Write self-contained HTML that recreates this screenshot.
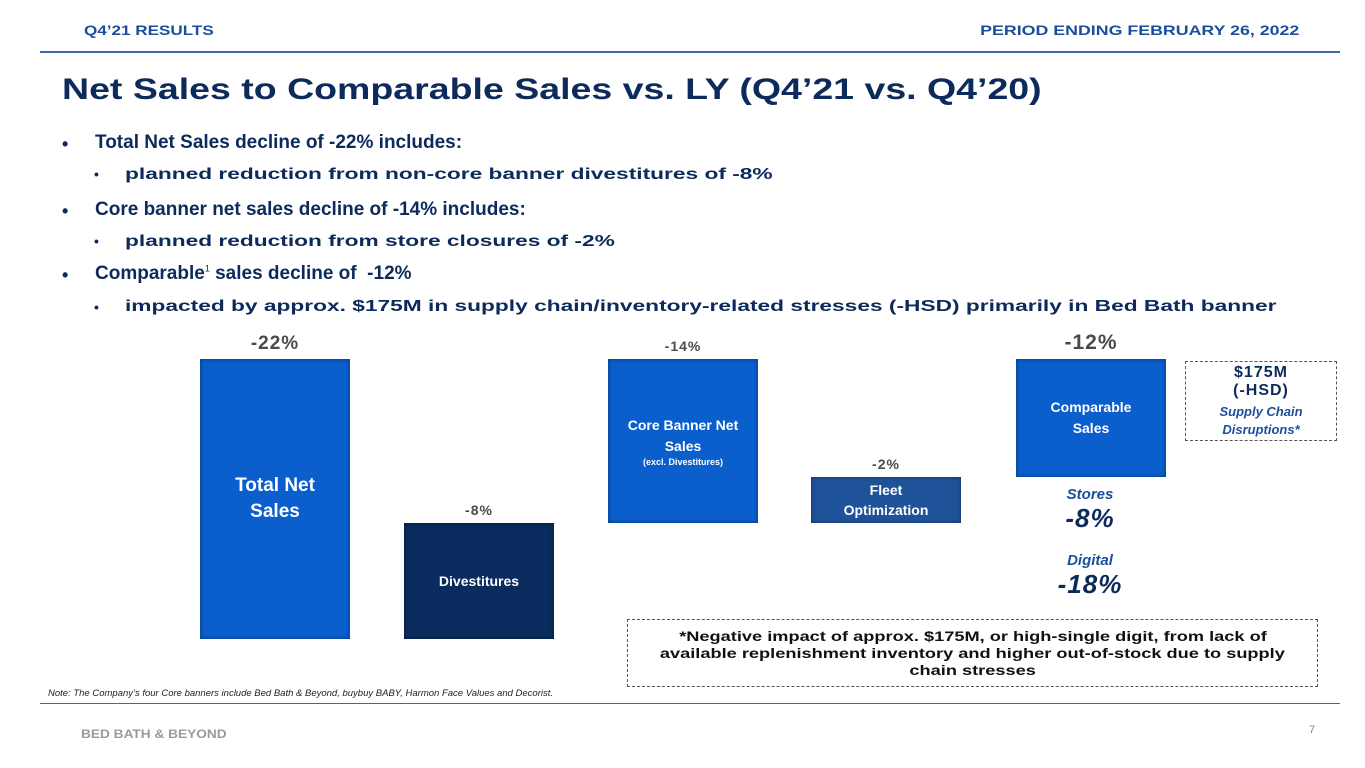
<!DOCTYPE html>
<html><head><meta charset="utf-8"><style>
body{margin:0;width:1365px;height:768px;background:#fff;position:relative;overflow:hidden;font-family:"Liberation Sans",sans-serif;color:#0c2a5b}
.a{position:absolute}
.h{font-weight:bold;font-size:14px;color:#1b4f9c;top:22px;white-space:nowrap}
.b{font-weight:bold;color:#0c2a5b;white-space:nowrap;transform-origin:0 50%}
.l1{font-size:19px}
.l2{font-size:16px;transform:scaleX(1.42)}
.dot{position:absolute;font-weight:bold;color:#0c2a5b}
.bar{position:absolute;box-shadow:inset 0 0 4px rgba(0,0,0,.45);color:#fff;font-weight:bold;text-align:center;display:flex;flex-direction:column;justify-content:center;align-items:center}
.lbl{position:absolute;font-weight:bold;color:#4a4a4a;text-align:center;width:160px;letter-spacing:1px}
.fl{display:block;transform:scaleX(1.3);white-space:nowrap}
</style></head><body>
<div class="a h" style="left:84px;transform:scaleX(1.22);transform-origin:0 50%">Q4’21 RESULTS</div>
<div class="a h" style="right:66px;transform:scaleX(1.27);transform-origin:100% 50%">PERIOD ENDING FEBRUARY 26, 2022</div>
<div class="a" style="left:40px;top:51px;width:1300px;height:2px;background:#3e68a8"></div>
<div class="a b" style="left:62px;top:73px;font-size:30px;transform:scaleX(1.25)">Net Sales to Comparable Sales vs. LY (Q4’21 vs. Q4’20)</div>
<div>
<div class="dot" style="left:62px;top:134px;font-size:18px">•</div>
<div class="a b l1" style="left:95px;top:132px">Total Net Sales decline of -22% includes:</div>
<div class="dot" style="left:94px;top:166px;font-size:14px">•</div>
<div class="a b l2" style="left:125px;top:166px">planned reduction from non-core banner divestitures of -8%</div>
<div class="dot" style="left:62px;top:201px;font-size:18px">•</div>
<div class="a b l1" style="left:95px;top:199px">Core banner net sales decline of -14% includes:</div>
<div class="dot" style="left:94px;top:233px;font-size:14px">•</div>
<div class="a b l2" style="left:125px;top:233px">planned reduction from store closures of -2%</div>
<div class="dot" style="left:62px;top:265px;font-size:18px">•</div>
<div class="a b l1" style="left:95px;top:263px">Comparable<sup style="font-size:9px;font-weight:normal">1</sup> sales decline of &nbsp;-12%</div>
<div class="dot" style="left:94px;top:299px;font-size:14px">•</div>
<div class="a b l2" style="left:125px;top:298px">impacted by approx. $175M in supply chain/inventory-related stresses (-HSD) primarily in Bed Bath banner</div>
</div>
<div id="chart"></div>
<div class="a" style="left:1185px;top:361px;width:150px;height:78px;border:1px dashed #555;text-align:center">
<div class="b" style="font-size:16px;line-height:18px;margin-top:2px;letter-spacing:1px">$175M<br>(-HSD)</div>
<div style="font-size:13px;font-style:italic;font-weight:bold;color:#1b4f9c;line-height:18px;margin-top:3px">Supply Chain<br>Disruptions*</div></div>
<div class="a" style="left:1016px;top:486px;width:148px;text-align:center">
<div style="font-style:italic;font-weight:bold;font-size:15px;color:#1b4f9c">Stores</div>
<div style="font-style:italic;font-weight:bold;font-size:26px;letter-spacing:1px">-8%</div>
<div style="font-style:italic;font-weight:bold;font-size:15px;color:#1b4f9c;margin-top:18px">Digital</div>
<div style="font-style:italic;font-weight:bold;font-size:26px;letter-spacing:1px">-18%</div></div>
<div class="a" style="left:627px;top:619px;width:691px;height:68px;border:1px dashed #555;text-align:center;font-weight:bold;font-size:14px;line-height:17px;color:#111;display:flex;flex-direction:column;align-items:center;justify-content:center;box-sizing:border-box"><span class="fl">*Negative impact of approx. $175M, or high-single digit, from lack of</span><span class="fl">available replenishment inventory and higher out-of-stock due to supply</span><span class="fl">chain stresses</span></div>
<div class="a" style="left:48px;top:688px;font-size:9.5px;font-style:italic;color:#222">Note: The Company’s four Core banners include Bed Bath &amp; Beyond, buybuy BABY, Harmon Face Values and Decorist.</div>
<div class="a" style="left:40px;top:703px;width:1300px;height:1px;background:#3e68a8"></div>
<div class="a" style="left:81px;top:727px;font-size:12px;font-weight:bold;color:#9a9a9a;transform:scaleX(1.14);transform-origin:0 50%">BED BATH &amp; BEYOND</div>
<div class="a" style="left:1309px;top:724px;font-size:11px;color:#888">7</div>
<script>
const categories=["Total Net Sales","Divestitures","Core Banner Net Sales","Fleet Optimization","Comparable Sales"];
const values=[-22,-8,-14,-2,-12];
const valueLabels=["-22%","-8%","-14%","-2%","-12%"];
const colors=["#0a5fcc","#0a2b5e","#0a5fcc","#1f5399","#0a5fcc"];
const base=639;
const a0=22.6,b0=(280-22.6)/22;
function h(v){return a0+Math.abs(v)*b0;}
const xs=[200,404,608,811,1016],w=150;
const chart=document.getElementById('chart');
const totTop=base-h(values[0]);
const divTop=base-h(values[1]);
const fleetTop=divTop-h(values[3]);
const tops=[totTop,divTop,totTop,fleetTop,totTop];
const bottoms=[base,base,divTop,divTop,fleetTop];
const inner=["<div style='font-size:19px;line-height:26px'>Total Net<br>Sales</div>","<div style='font-size:14px'>Divestitures</div>","<div style='font-size:14px;line-height:21px'>Core Banner Net<br>Sales</div><div style='font-size:9px'>(excl. Divestitures)</div>","<div style='font-size:14px;line-height:20px'>Fleet<br>Optimization</div>","<div style='font-size:14px;line-height:21px'>Comparable<br>Sales</div>"];
const lsz=[19,14,14,14,21];
values.forEach((v,i)=>{
 const b=document.createElement('div');
 b.className='bar';
 
 
 b.style.left=xs[i]+'px';b.style.top=tops[i]+'px';b.style.width=w+'px';b.style.height=(bottoms[i]-tops[i])+'px';b.style.background=colors[i];
 b.innerHTML=inner[i];chart.appendChild(b);
 const l=document.createElement('div');
 l.className='lbl';
 
 
 l.style.left=(xs[i]+w/2-80)+'px';l.style.fontSize=lsz[i]+'px';l.style.top=(tops[i]-lsz[i]-7)+'px';
 l.textContent=valueLabels[i];chart.appendChild(l);
});
</script>
</body></html>
